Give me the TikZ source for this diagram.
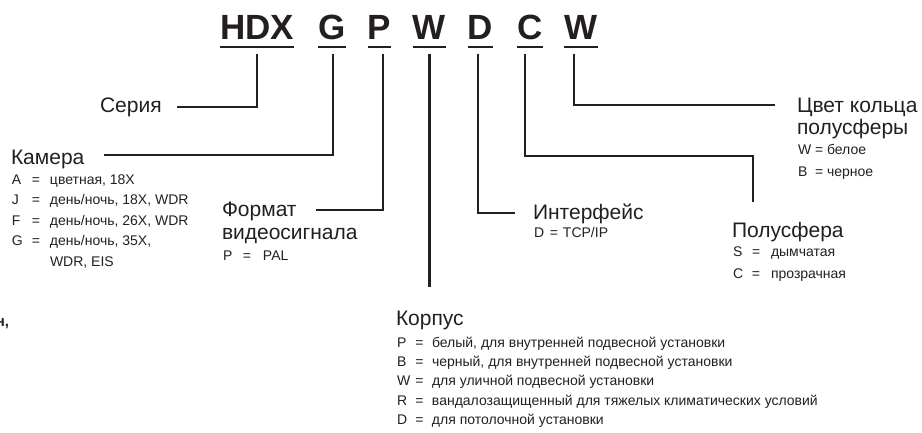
\documentclass[tikz,border=0pt]{standalone}
\usepackage{fontspec}
\setmainfont{Liberation Sans}
\definecolor{ink}{HTML}{231F20}
\newcommand{\itmrow}[4]{\makebox[#1][l]{#3}\makebox[#2][l]{=}#4}
\begin{document}
\begin{tikzpicture}[x=1pt,y=-1pt,
  every node/.style={inner sep=0pt, outer sep=0pt, text=ink},
  title/.style={font=\fontsize{35}{40}\selectfont\bfseries, anchor=base},
  head/.style={font=\fontsize{21}{24}\selectfont, anchor=base west},
  item/.style={font=\fontsize{14}{16}\selectfont, anchor=base west},
  conn/.style={draw=ink, line width=2.5pt},
  uline/.style={draw=ink, line width=2.8pt}]
\useasboundingbox (0,0) rectangle (922,433);
% title
\node[title] (hdx) at (257,40) {HDX};
\node[title] (tG) at (332,40) {G};
\node[title] (tP) at (379.5,40) {P};
\node[title] (tW1) at (429.5,40) {W};
\node[title] (tD) at (480.5,40) {D};
\node[title] (tC) at (530,40) {C};
\node[title] (tW2) at (581,40) {W};
\foreach \n in {hdx,tG,tP,tW1,tD,tC,tW2}
  \draw[uline] ([yshift=-7pt]\n.base west) -- ([yshift=-7pt]\n.base east);
% headings
\node[head] (ser) at (100,113) {Серия};
\node[head] (kam) at (11,165) {Камера};
\node[head] (fmt1) at (222,217) {Формат};
\node[head] (fmt2) at (222,240) {видеосигнала};
\node[head] (kor) at (396,325) {Корпус};
\node[head] (int) at (533,220) {Интерфейс};
\node[head] (pol) at (732,237) {Полусфера};
\node[head] (cv1) at (797,113) {Цвет кольца};
\node[head] (cv2) at (797,135) {полусферы};
% connectors
\coordinate (serE) at (177,107);
\draw[conn] ([yshift=-14pt]hdx.base) |- (serE);
\coordinate (kamE) at (104,155);
\draw[conn] ([xshift=1pt,yshift=-14pt]tG.base) |- (kamE);
\coordinate (fmtE) at (316,210);
\draw[conn] ([xshift=3.5pt,yshift=-14pt]tP.base) |- (fmtE);
\coordinate (korT) at (430,287);
\draw[conn] ([yshift=-14pt]tW1.base) -- (tW1.base |- korT);
\coordinate (intE) at (515,213);
\draw[conn] ([xshift=-2.5pt,yshift=-14pt]tD.base) |- (intE);
\coordinate (polA) at (753,156);
\coordinate (polB) at (753,202);
\draw[conn] ([xshift=-5pt,yshift=-14pt]tC.base) |- (polA) -- (polB);
\coordinate (cvE) at (775,105);
\draw[conn] ([xshift=-7pt,yshift=-14pt]tW2.base) |- (cvE);
% Камера items
\node[item] (k1) at (12,185) {\itmrow{20pt}{18pt}{A}{цветная, 18X}};
\node[item] (k2) at (12,205) {\itmrow{20pt}{18pt}{J}{день/ночь, 18X, WDR}};
\node[item] (k3) at (12,225.5) {\itmrow{20pt}{18pt}{F}{день/ночь, 26X, WDR}};
\node[item] (k4) at (12,246) {\itmrow{20pt}{18pt}{G}{день/ночь, 35X,}};
\node[item] (k5) at (50,266) {WDR, EIS};
% Формат
\node[item] (f1) at (223,260) {\itmrow{20pt}{20pt}{P}{PAL}};
% Интерфейс
\node[item] (i1) at (534,238) {\itmrow{16pt}{13pt}{D}{TCP/IP}};
% Полусфера
\node[item] (p1) at (733,257) {\itmrow{19pt}{19pt}{S}{дымчатая}};
\node[item] (p2) at (733,278) {\itmrow{19pt}{19pt}{C}{прозрачная}};
% Цвет кольца
\node[item] (c1) at (798,155) {\itmrow{17pt}{12pt}{W}{белое}};
\node[item] (c2) at (798,177) {\itmrow{17pt}{12pt}{B}{черное}};
% Корпус
\node[item] (r1) at (397,347) {\itmrow{18.5pt}{16.5pt}{P}{белый, для внутренней подвесной установки}};
\node[item] (r2) at (397,366) {\itmrow{18.5pt}{16.5pt}{B}{черный, для внутренней подвесной установки}};
\node[item] (r3) at (397,385) {\itmrow{18.5pt}{16.5pt}{W}{для уличной подвесной установки}};
\node[item] (r4) at (397,405) {\itmrow{18.5pt}{16.5pt}{R}{вандалозащищенный для тяжелых климатических условий}};
\node[item] (r5) at (397,424) {\itmrow{18.5pt}{16.5pt}{D}{для потолочной установки}};
% cut-off fragment at left edge
\node[anchor=base east, font=\fontsize{15}{18}\selectfont\bfseries] (frag) at (9,326) {н,};
\end{tikzpicture}
\end{document}
